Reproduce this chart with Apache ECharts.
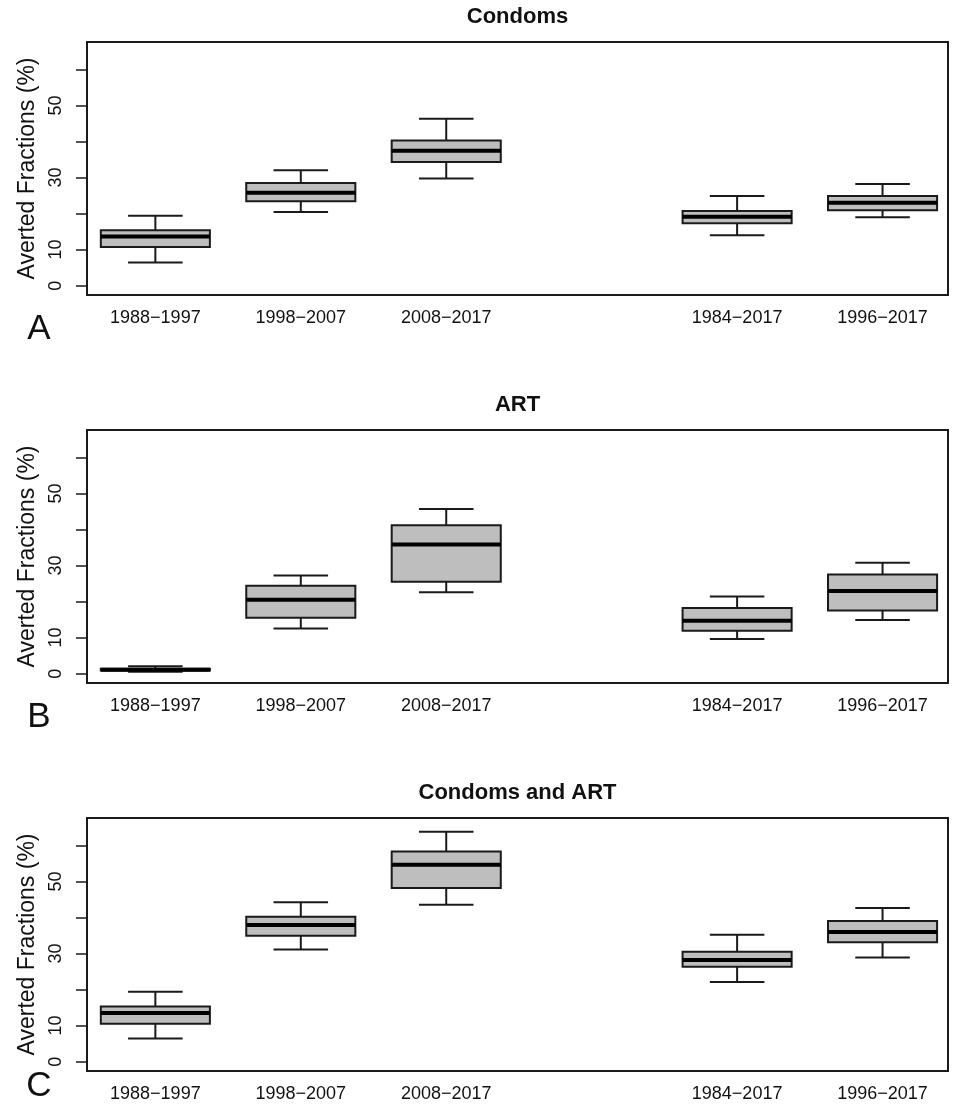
<!DOCTYPE html>
<html>
<head>
<meta charset="utf-8">
<script src="https://cdn.jsdelivr.net/npm/echarts@6/dist/echarts.min.js"></script>
<style>
  html, body { margin: 0; padding: 0; background: #fff; }
  #main { width: 954px; height: 1105px; }
</style>
</head>
<body>
<div id="main"></div>
<script>
// box positions on the x scale (slot 4 is left empty)
const periods = ['1988\u22121997', '1998\u22122007', '2008\u22122017', '1984\u22122017', '1996\u22122017'];
const slots = [1, 2, 3, 5, 6];

// each box: [lower whisker, Q1, median, Q3, upper whisker]
const condoms = [
  [6.4, 10.7, 13.6, 15.4, 19.4],
  [20.4, 23.4, 25.8, 28.5, 32.0],
  [29.7, 34.3, 37.4, 40.3, 46.3],
  [14.0, 17.3, 19.1, 20.7, 24.9],
  [19.0, 20.9, 23.0, 24.9, 28.2]
];
const art = [
  [0.55, 0.9, 1.1, 1.35, 2.05],
  [12.5, 15.5, 20.5, 24.4, 27.2],
  [22.6, 25.5, 35.8, 41.2, 45.7],
  [9.6, 11.9, 14.7, 18.2, 21.4],
  [14.9, 17.5, 22.9, 27.5, 30.8]
];
const condomsArt = [
  [6.4, 10.5, 13.5, 15.3, 19.4],
  [31.1, 34.9, 37.9, 40.2, 44.2],
  [43.5, 48.2, 54.6, 58.3, 63.8],
  [22.1, 26.3, 28.2, 30.5, 35.2],
  [28.9, 33.1, 36.0, 39.0, 42.6]
];

const panelTitles = ['Condoms', 'ART', 'Condoms and ART'];
const panelLetters = ['A', 'B', 'C'];
const panelData = [condoms, art, condomsArt];
const yTicks = [0, 10, 20, 30, 40, 50, 60];
const yLabels = [0, 10, 30, 50];
const yName = 'Averted Fractions (%)';

const FONT = '"Liberation Sans", Arial, Helvetica, sans-serif';
const INK = '#1a1a1a';
const gridTops = [42, 430, 818];
const letterY = [329, 717, 1086];

var chart = echarts.init(document.getElementById('main'));

var grids = [], xAxes = [], yAxes = [], series = [], graphics = [];

panelData.forEach(function (boxes, p) {
  grids.push({
    left: 87, right: 6, top: gridTops[p], height: 253,
    show: true, borderColor: INK, borderWidth: 2, backgroundColor: 'transparent'
  });
  xAxes.push({
    type: 'value', gridIndex: p, min: 0.53, max: 6.45,
    axisLine: { show: false }, axisTick: { show: false }, splitLine: { show: false },
    axisLabel: {
      customValues: slots,
      margin: 14,
      fontSize: 18, fontFamily: FONT, color: '#111',
      formatter: function (v) { return periods[slots.indexOf(v)] || ''; }
    }
  });
  yAxes.push({
    type: 'value', gridIndex: p, min: -2.6, max: 67.6,
    name: yName, nameLocation: 'middle', nameRotate: 90, nameGap: 46,
    nameTextStyle: { fontSize: 23, fontFamily: FONT, color: '#111' },
    axisLine: { show: false }, splitLine: { show: false },
    axisTick: { show: true, customValues: yTicks, length: 11, lineStyle: { color: INK, width: 1.5 } },
    axisLabel: {
      customValues: yLabels, rotate: 90, margin: 22,
      fontSize: 18, fontFamily: FONT, color: '#111'
    }
  });
  series.push({
    type: 'custom', xAxisIndex: p, yAxisIndex: p,
    encode: { x: 0, y: [1, 2, 3, 4, 5] },
    data: boxes.map(function (b, i) { return [slots[i]].concat(b); }),
    renderItem: function (params, api) {
      var x = api.value(0);
      var lo = api.coord([x, api.value(1)]);
      var q1 = api.coord([x, api.value(2)]);
      var md = api.coord([x, api.value(3)]);
      var q3 = api.coord([x, api.value(4)]);
      var hi = api.coord([x, api.value(5)]);
      var boxW = api.size([0.75, 0])[0];
      var capW = boxW / 2;
      var cx = md[0];
      var ls = { stroke: INK, lineWidth: 2 };
      return {
        type: 'group',
        children: [
          { type: 'line', shape: { x1: cx, y1: hi[1], x2: cx, y2: q3[1] }, style: ls },
          { type: 'line', shape: { x1: cx, y1: q1[1], x2: cx, y2: lo[1] }, style: ls },
          { type: 'line', shape: { x1: cx - capW / 2, y1: hi[1], x2: cx + capW / 2, y2: hi[1] }, style: ls },
          { type: 'line', shape: { x1: cx - capW / 2, y1: lo[1], x2: cx + capW / 2, y2: lo[1] }, style: ls },
          {
            type: 'rect',
            shape: { x: cx - boxW / 2, y: q3[1], width: boxW, height: q1[1] - q3[1] },
            style: { fill: '#bebebe', stroke: INK, lineWidth: 2 }
          },
          { type: 'line', shape: { x1: cx - boxW / 2, y1: md[1], x2: cx + boxW / 2, y2: md[1] }, style: { stroke: '#000', lineWidth: 4 } }
        ]
      };
    }
  });
  graphics.push({
    type: 'text', left: null, x: 517.5, y: gridTops[p] - 25,
    style: {
      text: panelTitles[p], fill: '#111', font: 'bold 22px ' + FONT,
      align: 'center', verticalAlign: 'middle', textAlign: 'center', textVerticalAlign: 'middle'
    }
  });
  graphics.push({
    type: 'text', x: 39, y: letterY[p],
    style: {
      text: panelLetters[p], fill: '#111', font: '35px ' + FONT,
      align: 'center', verticalAlign: 'middle', textAlign: 'center', textVerticalAlign: 'middle'
    }
  });
});

chart.setOption({
  animation: false,
  grid: grids,
  xAxis: xAxes,
  yAxis: yAxes,
  series: series,
  graphic: { elements: graphics }
});
</script>
</body>
</html>
